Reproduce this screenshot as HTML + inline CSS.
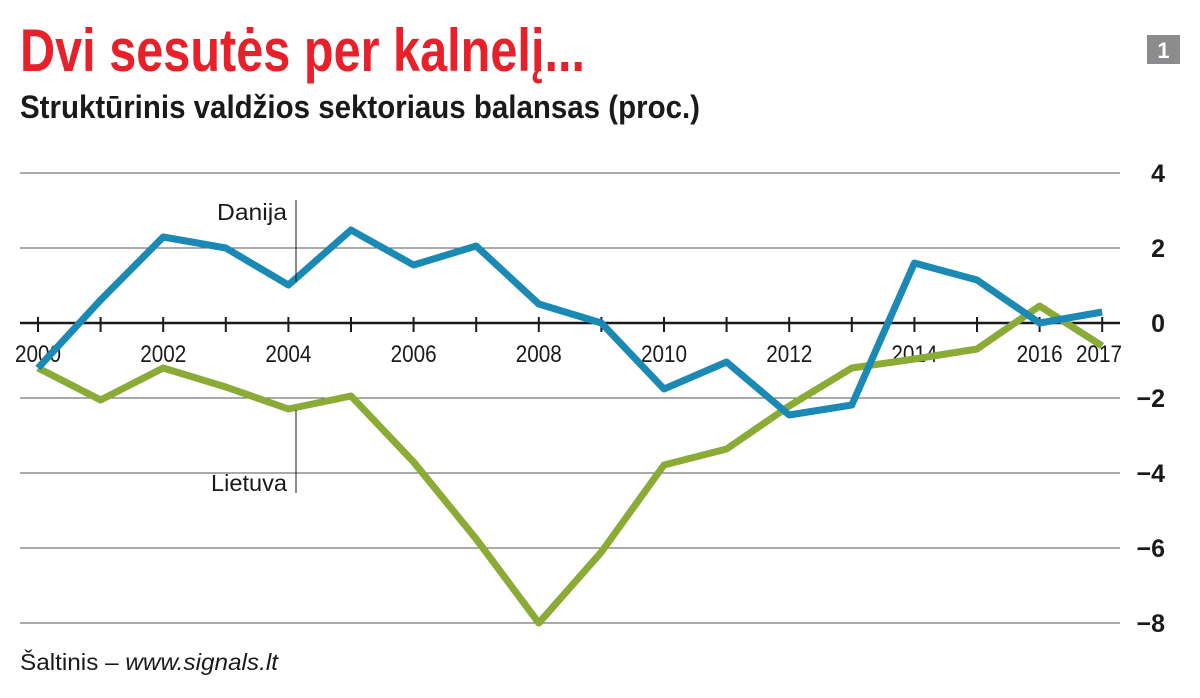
<!DOCTYPE html>
<html><head><meta charset="utf-8"><style>
html,body{margin:0;padding:0;background:#fff;}
svg{display:block;}
</style></head><body>
<svg width="1200" height="698" viewBox="0 0 1200 698" xmlns="http://www.w3.org/2000/svg" font-family="'Liberation Sans Narrow','Liberation Sans',sans-serif">
<text x="20" y="71" font-size="60" font-weight="bold" fill="#e8202a" textLength="565" lengthAdjust="spacingAndGlyphs">Dvi sesutės per kalnelį...</text>
<text x="20" y="118" font-size="32" font-weight="bold" fill="#1a1a1a" textLength="680" lengthAdjust="spacingAndGlyphs">Struktūrinis valdžios sektoriaus balansas (proc.)</text>
<rect x="1147" y="35" width="33" height="29" fill="#8c8c8e"/>
<text x="1163.5" y="58" font-size="22" font-weight="bold" fill="#fff" text-anchor="middle">1</text>
<g stroke="#555" stroke-width="1">
<line x1="20" y1="173" x2="1120" y2="173"/>
<line x1="20" y1="248" x2="1120" y2="248"/>
<line x1="20" y1="398" x2="1120" y2="398"/>
<line x1="20" y1="473" x2="1120" y2="473"/>
<line x1="20" y1="548" x2="1120" y2="548"/>
<line x1="20" y1="623" x2="1120" y2="623"/>
</g>
<line x1="20" y1="323" x2="1120" y2="323" stroke="#1a1a1a" stroke-width="2.5"/>
<g stroke="#1a1a1a" stroke-width="2">
<line x1="38" y1="317" x2="38" y2="332"/><line x1="100.6" y1="317" x2="100.6" y2="332"/><line x1="163.2" y1="317" x2="163.2" y2="332"/><line x1="225.8" y1="317" x2="225.8" y2="332"/><line x1="288.4" y1="317" x2="288.4" y2="332"/><line x1="351" y1="317" x2="351" y2="332"/><line x1="413.6" y1="317" x2="413.6" y2="332"/><line x1="476.2" y1="317" x2="476.2" y2="332"/><line x1="538.8" y1="317" x2="538.8" y2="332"/><line x1="601.4" y1="317" x2="601.4" y2="332"/><line x1="664" y1="317" x2="664" y2="332"/><line x1="726.6" y1="317" x2="726.6" y2="332"/><line x1="789.2" y1="317" x2="789.2" y2="332"/><line x1="851.8" y1="317" x2="851.8" y2="332"/><line x1="914.4" y1="317" x2="914.4" y2="332"/><line x1="977" y1="317" x2="977" y2="332"/><line x1="1039.6" y1="317" x2="1039.6" y2="332"/><line x1="1102.2" y1="317" x2="1102.2" y2="332"/>
</g>
<g font-size="24" fill="#1a1a1a" text-anchor="middle">
<text x="38" y="362" textLength="46" lengthAdjust="spacingAndGlyphs">2000</text><text x="163.2" y="362" textLength="46" lengthAdjust="spacingAndGlyphs">2002</text><text x="288.4" y="362" textLength="46" lengthAdjust="spacingAndGlyphs">2004</text><text x="413.6" y="362" textLength="46" lengthAdjust="spacingAndGlyphs">2006</text><text x="538.8" y="362" textLength="46" lengthAdjust="spacingAndGlyphs">2008</text><text x="664" y="362" textLength="46" lengthAdjust="spacingAndGlyphs">2010</text><text x="789.2" y="362" textLength="46" lengthAdjust="spacingAndGlyphs">2012</text><text x="914.4" y="362" textLength="46" lengthAdjust="spacingAndGlyphs">2014</text><text x="1039.6" y="362" textLength="46" lengthAdjust="spacingAndGlyphs">2016</text><text x="1099" y="362" textLength="46" lengthAdjust="spacingAndGlyphs">2017</text>
</g>
<g font-size="25" font-weight="bold" fill="#1a1a1a" text-anchor="end">
<text x="1165" y="182">4</text><text x="1165" y="257">2</text><text x="1165" y="332">0</text><text x="1165" y="407">−2</text><text x="1165" y="482">−4</text><text x="1165" y="557">−6</text><text x="1165" y="632">−8</text>
</g>
<polyline fill="none" stroke="#8aab35" stroke-width="7" stroke-linejoin="round" points="38,368 100.6,400 163.2,368 225.8,387 288.4,409 351,396 413.6,462 476.2,539 538.8,623 601.4,552 664,465 726.6,449 789.2,406 851.8,368 914.4,359 977,349 1039.6,306 1102.2,346"/>
<polyline fill="none" stroke="#1a8ab5" stroke-width="7" stroke-linejoin="round" points="38,368 100.6,300 163.2,237 225.8,248 288.4,285 351,230 413.6,265 476.2,246 538.8,304 601.4,323 664,389 726.6,362 789.2,415 851.8,405 914.4,263 977,280 1039.6,323 1102.2,312"/>
<line x1="296" y1="200" x2="296" y2="282" stroke="#1a1a1a" stroke-width="1"/>
<line x1="296" y1="410" x2="296" y2="493" stroke="#1a1a1a" stroke-width="1"/>
<g font-size="23" fill="#1a1a1a" text-anchor="end">
<text x="287" y="220" textLength="70" lengthAdjust="spacingAndGlyphs">Danija</text>
<text x="287" y="491" textLength="76" lengthAdjust="spacingAndGlyphs">Lietuva</text>
</g>
<text x="20" y="670" font-size="23" fill="#1a1a1a" textLength="258" lengthAdjust="spacingAndGlyphs">Šaltinis – <tspan font-style="italic">www.signals.lt</tspan></text>
</svg>
</body></html>
